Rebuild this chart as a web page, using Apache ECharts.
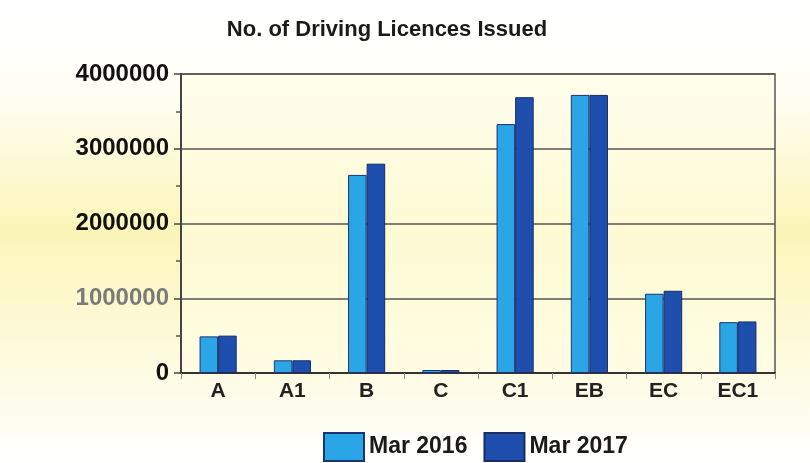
<!DOCTYPE html>
<html>
<head>
<meta charset="utf-8">
<script src="https://cdn.jsdelivr.net/npm/echarts@6/dist/echarts.min.js"></script>
<style>
    html, body { margin: 0; padding: 0; background: #fff; }
    #chart { width: 810px; height: 463px; }
</style>
</head>
<body>
<div id="chart"></div>
<script>
// licence categories on the x axis
const categories = ['A', 'A1', 'B', 'C', 'C1', 'EB', 'EC', 'EC1'];
const seriesNames = ['Mar 2016', 'Mar 2017'];
// values (approximate)
const mar2016 = [490000, 170000, 2650000, 40000, 3330000, 3720000, 1060000, 680000];
const mar2017 = [500000, 170000, 2800000, 40000, 3690000, 3720000, 1100000, 690000];
const yTicks = [0, 1000000, 2000000, 3000000, 4000000];

const chart = echarts.init(document.getElementById('chart'));

const font = 'Liberation Sans, Arial, sans-serif';

chart.setOption({
    animation: false,
    backgroundColor: new echarts.graphic.LinearGradient(0, 0, 0, 1, [
        { offset: 0, color: '#ffffff' },
        { offset: 0.2, color: '#fffef4' },
        { offset: 0.5, color: '#fcf5b8' },
        { offset: 0.8, color: '#fefbe2' },
        { offset: 1, color: '#ffffff' }
    ]),
    title: {
        text: 'No. of Driving Licences Issued',
        left: 382,
        textAlign: 'center',
        top: 14,
        textStyle: { fontFamily: font, fontSize: 22, fontWeight: 'bold', color: '#1a1a1a' }
    },
    legend: {
        data: seriesNames,
        left: 318,
        top: 427,
        icon: 'rect',
        itemWidth: 40,
        itemHeight: 28,
        itemGap: 16,
        textStyle: { fontFamily: font, fontSize: 23, fontWeight: 'bold', color: '#1a1a1a' }
    },
    grid: {
        left: 181,
        right: 35,
        top: 74,
        bottom: 90,
        show: true,
        backgroundColor: 'rgba(255,253,228,0.6)',
        borderColor: '#555',
        borderWidth: 1.5
    },
    xAxis: {
        type: 'category',
        data: categories,
        axisLine: { lineStyle: { color: '#333', width: 2 } },
        axisTick: { show: true, length: 6, lineStyle: { color: '#888' } },
        axisLabel: {
            fontFamily: font, fontSize: 21, fontWeight: 'bold', color: '#222', margin: 8
        }
    },
    yAxis: {
        type: 'value',
        min: yTicks[0],
        max: yTicks[yTicks.length - 1],
        interval: 1000000,
        axisLine: { show: true, lineStyle: { color: '#444', width: 2 } },
        axisTick: { show: true, length: 7, lineStyle: { color: '#444', width: 1.5 } },
        minorTick: { show: true, splitNumber: 2, length: 5, lineStyle: { color: '#555', width: 1.5 } },
        splitLine: { show: true, lineStyle: { color: '#555', width: 1.5 } },
        axisLabel: {
            fontFamily: font, fontSize: 24, fontWeight: 'bold', margin: 12, color: '#111',
            formatter: function (v) {
                return Number(v) === 1000000 ? '{g|' + v + '}' : String(v);
            },
            rich: {
                g: { fontFamily: font, fontSize: 24, fontWeight: 'bold', color: '#7a7a7a' }
            }
        }
    },
    series: [
        {
            name: seriesNames[0],
            type: 'bar',
            data: mar2016,
            barGap: '0%',
            barCategoryGap: '50%',
            itemStyle: { color: '#2aa6e6', borderColor: '#1d3470', borderWidth: 1 }
        },
        {
            name: seriesNames[1],
            type: 'bar',
            data: mar2017,
            itemStyle: { color: '#1f4fae', borderColor: '#1a2c63', borderWidth: 1 }
        }
    ]
});
</script>
</body>
</html>
